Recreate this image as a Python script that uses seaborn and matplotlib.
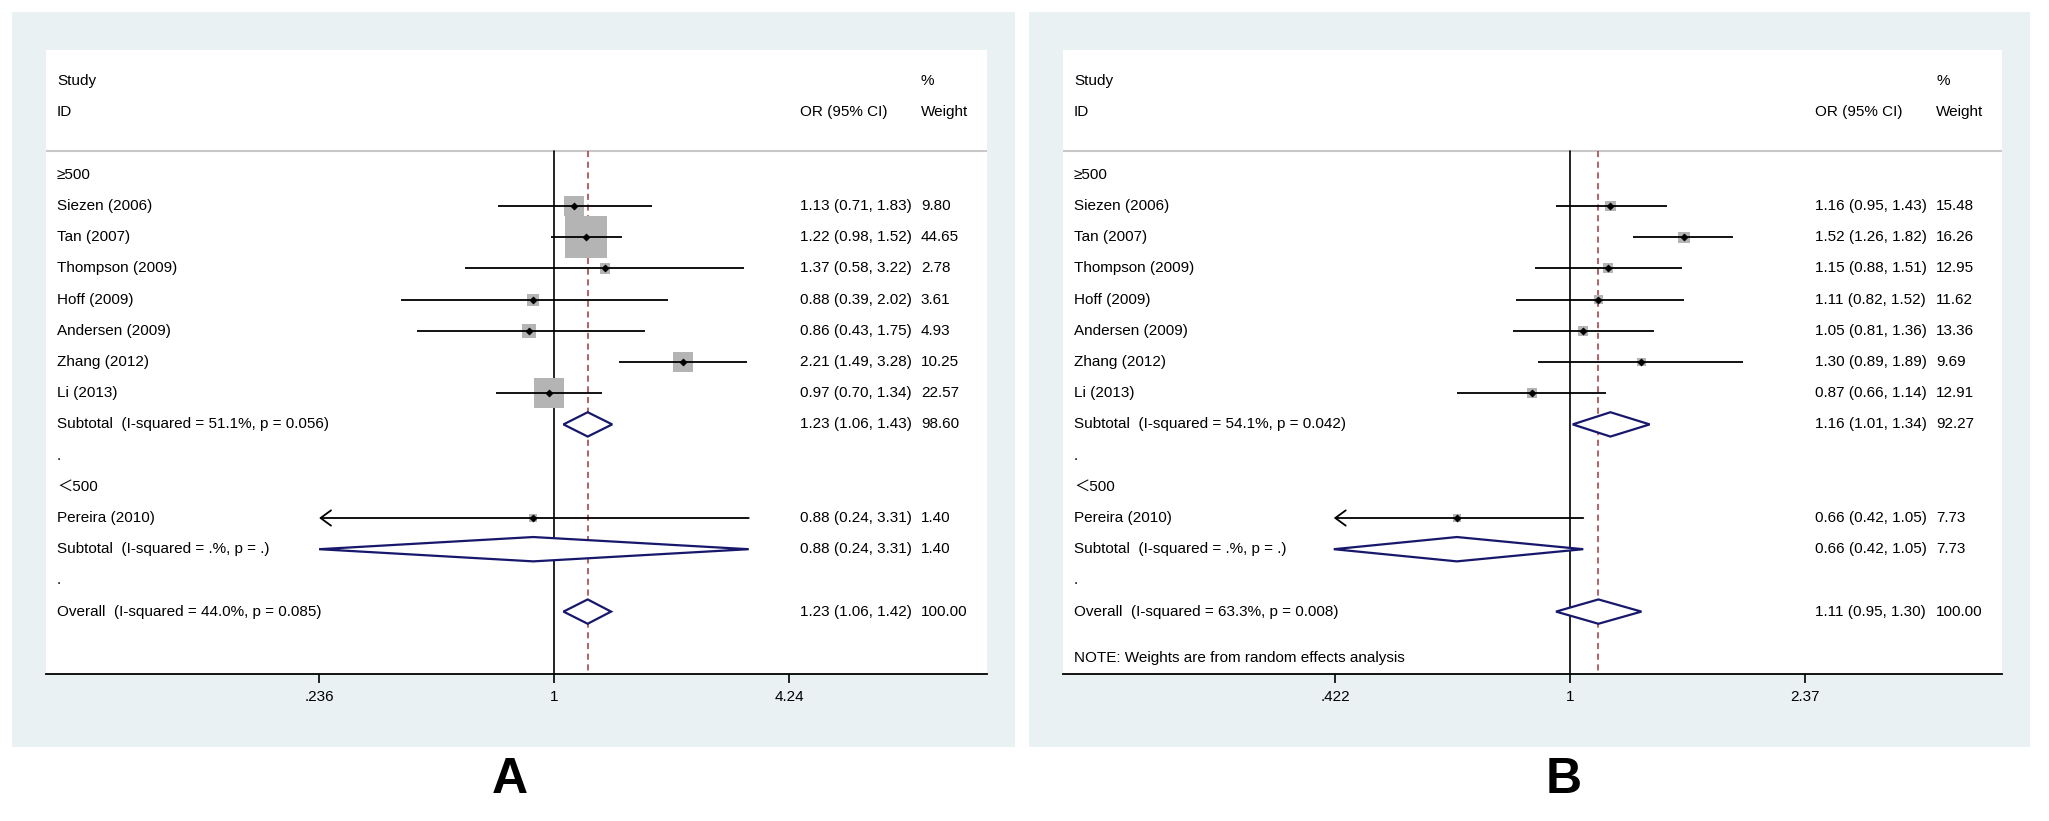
import numpy as np
import matplotlib.pyplot as plt
import matplotlib.transforms as mtransforms
from matplotlib.patches import Rectangle
import seaborn as sns

studies = ["Siezen (2006)", "Tan (2007)", "Thompson (2009)", "Hoff (2009)",
           "Andersen (2009)", "Zhang (2012)", "Li (2013)"]
small_study = "Pereira (2010)"

# panel A (fixed effects)
a_or = [1.13, 1.22, 1.37, 0.88, 0.86, 2.21, 0.97]
a_lo = [0.71, 0.98, 0.58, 0.39, 0.43, 1.49, 0.70]
a_hi = [1.83, 1.52, 3.22, 2.02, 1.75, 3.28, 1.34]
a_w = [9.80, 44.65, 2.78, 3.61, 4.93, 10.25, 22.57]
a_small = [0.88, 0.24, 3.31, 1.40]
a_sub = [1.23, 1.06, 1.43, 98.60]
a_sub_small = [0.88, 0.24, 3.31, 1.40]
a_all = [1.23, 1.06, 1.42, 100.00]
a_het = ["51.1%, p = 0.056", ".%, p = .", "44.0%, p = 0.085"]
a_ticks = [0.236, 1, 4.24]
a_ticklabels = [".236", "1", "4.24"]

# panel B (random effects)
b_or = [1.16, 1.52, 1.15, 1.11, 1.05, 1.30, 0.87]
b_lo = [0.95, 1.26, 0.88, 0.82, 0.81, 0.89, 0.66]
b_hi = [1.43, 1.82, 1.51, 1.52, 1.36, 1.89, 1.14]
b_w = [15.48, 16.26, 12.95, 11.62, 13.36, 9.69, 12.91]
b_small = [0.66, 0.42, 1.05, 7.73]
b_sub = [1.16, 1.01, 1.34, 92.27]
b_sub_small = [0.66, 0.42, 1.05, 7.73]
b_all = [1.11, 0.95, 1.30, 100.00]
b_het = ["54.1%, p = 0.042", ".%, p = .", "63.3%, p = 0.008"]
b_ticks = [0.422, 1, 2.37]
b_ticklabels = [".422", "1", "2.37"]

sns.set_style("white")
plt.rcParams['font.family'] = ['Liberation Sans', 'Noto Sans CJK SC', 'DejaVu Sans']
plt.rcParams['text.color'] = 'black'
plt.rcParams['xtick.color'] = 'black'
plt.rcParams['xtick.labelcolor'] = 'black'

W, H = 2049, 821
fig = plt.figure(figsize=(W / 100, H / 100), dpi=100)

BG = '#e9f1f3'
NAVY = '#17176c'
BOX = '#b4b4b4'
FS = 11


def draw_panel(left_px, right_px, zero_px, unit_px, ticks, ticklabels,
               ors, los, his, ws, small, sub, sub_small, overall, het,
               box_scale, note, gray_box, letter, letter_x):
    fig.patches.append(Rectangle((gray_box[0] / W, 1 - 747 / H),
                                 (gray_box[1] - gray_box[0]) / W, (747 - 12) / H,
                                 transform=fig.transFigure, facecolor=BG,
                                 edgecolor='none', zorder=-1))
    ax = fig.add_axes([left_px / W, 1 - 674 / H, (right_px - left_px) / W, 624 / H])
    ax.set_facecolor('white')
    ax.set_xscale('log')
    ax.set_xlim(np.exp((left_px - zero_px) / unit_px), np.exp((right_px - zero_px) / unit_px))
    ax.set_ylim(16.0, -4.0)
    rows = np.arange(1, 8)
    tr = mtransforms.blended_transform_factory(ax.transAxes, ax.transData)

    # header
    ax.axhline(-0.77, color='#c8c8c8', lw=1.5)
    ax.plot([1, 1], [-0.77, 16], color='black', lw=1.2, zorder=2)
    ax.plot([overall[0]] * 2, [-0.77, 16], color='#a0373c', lw=1.1,
            ls=(0, (4, 3)), zorder=2)

    # study boxes, CI lines, points
    sns.scatterplot(x=ors, y=rows, s=[box_scale * w for w in ws], marker='s',
                    color=BOX, edgecolor='none', ax=ax, zorder=3, legend=False)
    ax.hlines(rows, los, his, color='black', lw=1.3, zorder=4)
    lo_draw = min(small[1], ticks[0])
    sns.scatterplot(x=[small[0]], y=[11], s=box_scale * small[3], marker='s',
                    color=BOX, edgecolor='none', ax=ax, zorder=3, legend=False)
    ax.annotate('', xy=(lo_draw, 11), xytext=(small[2], 11),
                arrowprops=dict(arrowstyle='->,head_length=0.75,head_width=0.55',
                                lw=1.3, color='black', shrinkA=0, shrinkB=0,
                                mutation_scale=10), zorder=4)
    sns.scatterplot(x=ors + [small[0]], y=list(rows) + [11], s=14, marker='D',
                    color='black', edgecolor='black', ax=ax, zorder=5, legend=False)

    # pooled diamonds
    h = 0.39
    for (c, lo, hi, _), r in zip([sub, sub_small, overall], [8, 12, 14]):
        lo = min(lo, ticks[0]) if r == 12 else lo
        ax.fill([lo, c, hi, c, lo], [r, r - h, r, r + h, r], facecolor='white',
                edgecolor=NAVY, lw=1.6, zorder=4)

    # texts
    xl, xo, xw = 11 / 940, 753 / 940, 874 / 940
    ax.text(xl, -3, "Study", transform=tr, va='center', fontsize=FS)
    ax.text(xl, -2, "ID", transform=tr, va='center', fontsize=FS)
    ax.text(xw, -3, "%", transform=tr, va='center', fontsize=FS)
    ax.text(xo, -2, "OR (95% CI)", transform=tr, va='center', fontsize=FS)
    ax.text(xw, -2, "Weight", transform=tr, va='center', fontsize=FS)
    ax.text(xl, 0, "≥500", transform=tr, va='center', fontsize=FS)
    for r, name, o, lo, hi, w in zip(rows, studies, ors, los, his, ws):
        ax.text(xl, r, name, transform=tr, va='center', fontsize=FS)
        ax.text(xo, r, f"{o:.2f} ({lo:.2f}, {hi:.2f})", transform=tr, va='center', fontsize=FS)
        ax.text(xw, r, f"{w:.2f}", transform=tr, va='center', fontsize=FS)
    labels = [(8, f"Subtotal  (I-squared = {het[0]})", sub),
              (9, ".", None),
              (10, "＜500", None),
              (11, small_study, small),
              (12, f"Subtotal  (I-squared = {het[1]})", sub_small),
              (13, ".", None),
              (14, f"Overall  (I-squared = {het[2]})", overall)]
    for r, lab, vals in labels:
        ax.text(xl, r, lab, transform=tr, va='center', fontsize=FS)
        if vals is not None:
            ax.text(xo, r, f"{vals[0]:.2f} ({vals[1]:.2f}, {vals[2]:.2f})",
                    transform=tr, va='center', fontsize=FS)
            ax.text(xw, r, f"{vals[3]:.2f}", transform=tr, va='center', fontsize=FS)
    if note:
        ax.text(xl, 15.5, note, transform=tr, va='center', fontsize=FS)

    # axis
    for s in ['top', 'left', 'right']:
        ax.spines[s].set_visible(False)
    ax.spines['bottom'].set_color('black')
    ax.spines['bottom'].set_linewidth(1.3)
    ax.set_xticks(ticks)
    ax.set_xticklabels(ticklabels, fontsize=FS, color='black')
    ax.xaxis.set_minor_locator(plt.NullLocator())
    ax.tick_params(axis='x', direction='out', length=6.5, width=1.2, color='black',
                   labelcolor='black', pad=5, bottom=True)
    ax.set_yticks([])
    ax.set_xlabel('')
    ax.set_ylabel('')
    fig.text(letter_x / W, 1 - 780 / H, letter, fontsize=36, fontweight='bold',
             ha='center', va='center', color='black')


draw_panel(46, 987, 554, 162.7, a_ticks, a_ticklabels,
           a_or, a_lo, a_hi, a_w, a_small, a_sub, a_sub_small, a_all, a_het,
           20.5, None, (12, 1015), "A", 510)
draw_panel(1063, 2002, 1570, 272.3, b_ticks, b_ticklabels,
           b_or, b_lo, b_hi, b_w, b_small, b_sub, b_sub_small, b_all, b_het,
           3.9, "NOTE: Weights are from random effects analysis", (1029, 2030), "B", 1564)

fig.savefig("out.png", dpi=100, facecolor='white')
